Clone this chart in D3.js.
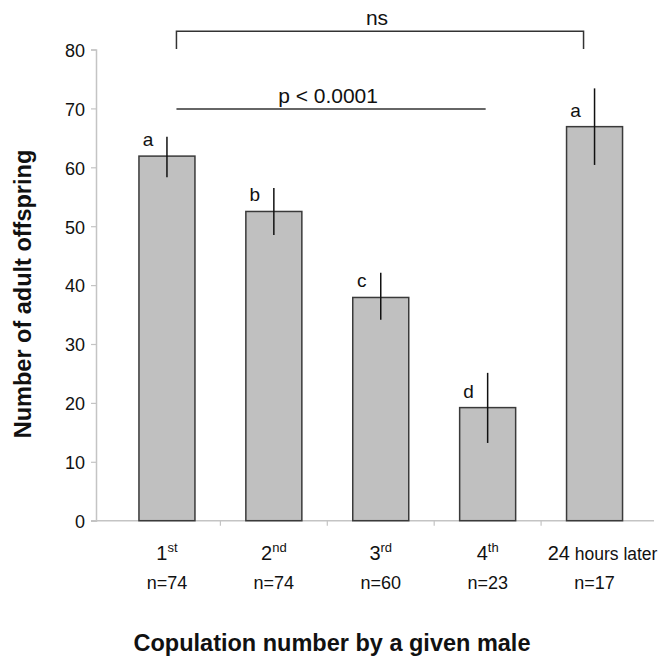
<!DOCTYPE html>
<html><head><meta charset="utf-8">
<script src="https://cdn.jsdelivr.net/npm/d3@7"></script>
<style>
body{margin:0;background:#fff;}
svg text{font-family:"Liberation Sans",Arial,sans-serif;fill:#111;}
</style></head>
<body><svg id="c" width="664" height="663"></svg>
<script>
const categories = ["1st","2nd","3rd","4th","24 hours later"];
const sampleSizes = [74,74,60,23,17];
const means = [61.9,52.5,37.9,19.2,66.9];
const errLow = [58.3,48.5,34.1,13.2,60.4];
const errHigh = [65.2,56.5,42.1,25.1,73.4];
const letters = ["a","b","c","d","a"];
const yTicks = [0,10,20,30,40,50,60,70,80];
const brackets = [
  {from:"1st", to:"24 hours later", top:83.1, leg:80.1, label:"ns"},
  {from:"1st", to:"4th", top:69.9, leg:null, label:"p < 0.0001"}
];

const svg = d3.select("#c");
const x = d3.scaleBand().domain(categories).range([113.5,648]).padding(0);
const y = d3.scaleLinear().domain([0,80]).range([520.7,49.5]);
const barW = 56;
const cx = c => x(c) + x.bandwidth()/2;
const axisCol = "#c4c4c4";

// y axis
const ya = svg.append("g").attr("transform","translate(96,0)")
  .call(d3.axisLeft(y).tickValues(yTicks).tickSize(5).tickPadding(6));
ya.select(".domain").attr("stroke",axisCol).attr("stroke-width",1.5);
ya.selectAll(".tick line").attr("stroke",axisCol).attr("stroke-width",1.2);
ya.selectAll(".tick text").attr("font-size",18).attr("font-family","Liberation Sans, Arial, sans-serif").attr("fill","#111").attr("dy","0.38em");

// x axis line
svg.append("line").attr("x1",91).attr("x2",654).attr("y1",y(0)).attr("y2",y(0))
  .attr("stroke",axisCol).attr("stroke-width",1.5);
svg.selectAll(".xt").data(categories.slice(1)).enter().append("line")
  .attr("x1",d=>x(d)).attr("x2",d=>x(d)).attr("y1",y(0)).attr("y2",y(0)+5)
  .attr("stroke",axisCol).attr("stroke-width",1.2);

// bars
svg.selectAll(".bar").data(categories).enter().append("rect")
  .attr("x",d=>cx(d)-barW/2).attr("width",barW)
  .attr("y",(d,i)=>y(means[i])).attr("height",(d,i)=>y(0)-y(means[i]))
  .attr("fill","#c0c0c0").attr("stroke","#3a3a3a").attr("stroke-width",1.5);

// error bars
svg.selectAll(".err").data(categories).enter().append("line")
  .attr("x1",d=>cx(d)).attr("x2",d=>cx(d))
  .attr("y1",(d,i)=>y(errHigh[i])).attr("y2",(d,i)=>y(errLow[i]))
  .attr("stroke","#111").attr("stroke-width",1.5);

// letters
svg.selectAll(".let").data(categories).enter().append("text")
  .attr("x",d=>cx(d)-19).attr("y",(d,i)=>y(means[i])-10)
  .attr("text-anchor","middle").attr("font-size",19).text((d,i)=>letters[i]);

// category labels
categories.forEach((c,i)=>{
  const m = c.match(/^(\d+)(st|nd|rd|th)?(.*)$/);
  const t = svg.append("text").attr("x",cx(c)+(m[3]?8:0)).attr("y",560).attr("text-anchor","middle");
  t.append("tspan").attr("font-size",20).text(m[1]);
  if(m[2]) t.append("tspan").attr("font-size",13).attr("dy",-8).text(m[2]);
  if(m[3]) t.append("tspan").attr("font-size",17.5).text(m[3]);
  svg.append("text").attr("x",cx(c)).attr("y",589).attr("text-anchor","middle")
    .attr("font-size",18).text("n="+sampleSizes[i]);
});

// brackets
brackets.forEach(b=>{
  const x1 = cx(b.from)+9.5, x2 = (b.leg!==null) ? cx(b.to)-11 : cx(b.to)-2;
  if(b.leg!==null){
    svg.append("path").attr("d",`M${x1},${y(b.leg)}V${y(b.top)}H${x2}V${y(b.leg)}`)
      .attr("fill","none").attr("stroke","#333").attr("stroke-width",1.5);
  } else {
    svg.append("line").attr("x1",x1).attr("x2",x2).attr("y1",y(b.top)).attr("y2",y(b.top))
      .attr("stroke","#333").attr("stroke-width",1.5);
  }
  svg.append("text").attr("x",(x1+x2)/2-3).attr("y",y(b.top)-6).attr("text-anchor","middle")
    .attr("font-size",21).text(b.label);
});

// titles
svg.append("text").attr("transform","translate(31,294) rotate(-90)").attr("text-anchor","middle")
  .attr("font-size",23.5).attr("font-weight","bold").text("Number of adult offspring");
svg.append("text").attr("x",332).attr("y",651).attr("text-anchor","middle")
  .attr("font-size",23.5).attr("font-weight","bold").text("Copulation number by a given male");
</script></body></html>
